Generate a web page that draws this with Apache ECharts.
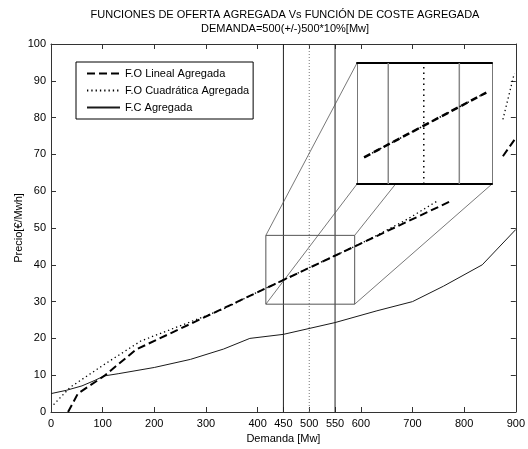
<!DOCTYPE html>
<html>
<head>
<meta charset="utf-8">
<script src="https://cdn.jsdelivr.net/npm/echarts@6/dist/echarts.min.js"></script>
<style>
  html, body { margin: 0; padding: 0; background: #fff; }
  #chart { width: 528px; height: 449px; }
</style>
</head>
<body>
<div id="chart"></div>
<script>
const FONT = '"Liberation Sans", Arial, Helvetica, sans-serif';

// Ejes: demanda [Mw] y precio [€/Mwh]
const xTicks = [0, 100, 200, 300, 400, 450, 500, 550, 600, 700, 800, 900];
const yTicks = [0, 10, 20, 30, 40, 50, 60, 70, 80, 90, 100];

// Función de oferta lineal agregada (dos tramos)
const foLineal = [[33, 0], [52, 5], [103, 9.8], [165, 17], [777, 57.5]];
const foLinealAlto = [[875, 69.5], [900, 74.5]];

// Función de oferta cuadrática agregada (dos tramos)
const foCuadratica = [[5, 2], [37, 6.7], [104, 13], [174, 19.3], [270, 24.5], [334, 28],
  [400, 32.6], [450, 35.9], [500, 39.2], [550, 42.5], [600, 45.8], [631, 48.0], [690, 52.4], [750, 57.5]];
const foCuadraticaAlto = [[875, 79.5], [897, 92]];

// Función de coste agregada
const fcAgregada = [[0, 5], [30, 5.9], [60, 7.1], [85, 8.6], [103, 9.8], [130, 10.4], [200, 12.1],
  [270, 14.3], [334, 17.1], [385, 20], [450, 21.1], [550, 24.3], [631, 27.5], [700, 30],
  [760, 34.2], [835, 40], [900, 49.6]];

// Demanda = 500 (+/-) 500*10%
const demandaLimites = [450, 550];
const demandaCentral = [500];

// Ventana ampliada y ejes del recuadro de detalle
const zoomX = [416, 588];
const zoomY = [29.3, 48];
const insetX = [406, 596];
const insetY = [28.9, 50.2];
const zoomLineal = [[416, 33.6], [588, 45.0]];
const zoomCuadratica = [[416, 33.6], [588, 45.0]];

const X_MIN = xTicks[0], X_MAX = xTicks[xTicks.length - 1];
const Y_MIN = yTicks[0], Y_MAX = yTicks[yTicks.length - 1];

const axisColor = '#333';
const labelStyle = { fontFamily: FONT, fontSize: 11, color: '#000' };

function vLines(xs, y0, y1) {
  const out = [];
  xs.forEach((x, i) => {
    if (i > 0) out.push([null, null]);
    out.push([x, y0], [x, y1]);
  });
  return out;
}

const mainRef = { xAxisIndex: 0, yAxisIndex: 0 };
const insetRef = { xAxisIndex: 2, yAxisIndex: 2 };

const baseSeries = [
  // líneas verticales de demanda
  Object.assign({ type: 'line', name: 'lim', data: vLines(demandaLimites, Y_MIN, Y_MAX), symbol: 'none',
    connectNulls: false, lineStyle: { color: '#222', width: 1 }, z: 2, silent: true }, mainRef),
  Object.assign({ type: 'line', name: 'dem', data: vLines(demandaCentral, Y_MIN, Y_MAX), symbol: 'none',
    lineStyle: { color: '#777', width: 1, type: [1, 2] }, z: 2, silent: true }, mainRef),
  // rectángulo de la zona ampliada
  Object.assign({ type: 'line', name: 'zona', symbol: 'none', silent: true, z: 2,
    data: [[zoomX[0], zoomY[0]], [zoomX[1], zoomY[0]], [zoomX[1], zoomY[1]], [zoomX[0], zoomY[1]], [zoomX[0], zoomY[0]]],
    lineStyle: { color: '#555', width: 1 } }, mainRef),
  // curvas
  Object.assign({ type: 'line', name: 'F.C Agregada', data: fcAgregada, symbol: 'none',
    itemStyle: { color: '#000' }, lineStyle: { color: '#1a1a1a', width: 1 }, z: 3 }, mainRef),
  Object.assign({ type: 'line', name: 'F.O Cuadrática Agregada', data: foCuadratica, symbol: 'none',
    itemStyle: { color: '#000' }, lineStyle: { color: '#000', width: 1.3, type: [1.3, 3] }, z: 3 }, mainRef),
  Object.assign({ type: 'line', name: 'F.O Cuadrática Agregada', data: foCuadraticaAlto, symbol: 'none',
    itemStyle: { color: '#000' }, lineStyle: { color: '#000', width: 1.3, type: [1.3, 3] }, z: 3 }, mainRef),
  Object.assign({ type: 'line', name: 'F.O Lineal Agregada', data: foLineal, symbol: 'none',
    itemStyle: { color: '#000' }, lineStyle: { color: '#000', width: 2, type: [8, 4] }, z: 4 }, mainRef),
  Object.assign({ type: 'line', name: 'F.O Lineal Agregada', data: foLinealAlto, symbol: 'none',
    itemStyle: { color: '#000' }, lineStyle: { color: '#000', width: 2, type: [8, 4] }, z: 4 }, mainRef),
  // recuadro de detalle
  Object.assign({ type: 'line', name: 'lim2', data: vLines(demandaLimites, insetY[0], insetY[1]), symbol: 'none',
    lineStyle: { color: '#888', width: 1.5 }, z: 12, silent: true }, insetRef),
  Object.assign({ type: 'line', name: 'dem2', data: vLines(demandaCentral, insetY[0], insetY[1]), symbol: 'none',
    lineStyle: { color: '#000', width: 1.5, type: [1.5, 4] }, z: 12, silent: true }, insetRef),
  Object.assign({ type: 'line', name: 'lin2', data: zoomLineal, symbol: 'none',
    lineStyle: { color: '#000', width: 2.5, type: [7, 4] }, z: 13, silent: true }, insetRef),
  Object.assign({ type: 'line', name: 'cua2', data: zoomCuadratica, symbol: 'none',
    lineStyle: { color: '#000', width: 1.5, type: [1.5, 3] }, z: 13, silent: true }, insetRef)
];

const option = {
  animation: false,
  backgroundColor: '#fff',
  textStyle: { fontFamily: FONT },
  graphic: [
    { type: 'text', x: 285, y: 15, style: { text: 'FUNCIONES DE OFERTA AGREGADA Vs FUNCIÓN DE COSTE AGREGADA',
      fontFamily: FONT, fontSize: 11, fill: '#000', align: 'center', verticalAlign: 'middle' } },
    { type: 'text', x: 285, y: 29, style: { text: 'DEMANDA=500(+/-)500*10%[Mw]',
      fontFamily: FONT, fontSize: 11, fill: '#000', align: 'center', verticalAlign: 'middle' } }
  ],
  legend: {
    data: ['F.O Lineal Agregada', 'F.O Cuadrática Agregada', 'F.C Agregada'],
    orient: 'vertical', left: 76, top: 62,
    itemWidth: 33, itemHeight: 12, itemGap: 6,
    padding: [6, 4, 6, 10],
    borderColor: '#000', borderWidth: 1, backgroundColor: '#fff',
    itemStyle: { opacity: 0 },
    textStyle: labelStyle,
    selectedMode: false,
    z: 20
  },
  grid: [
    { left: 51, top: 44, width: 469, height: 369 },
    { left: 357, top: 63, width: 135, height: 121, show: true, backgroundColor: '#fff', borderWidth: 0, z: 10 }
  ],
  xAxis: [
    { gridIndex: 0, type: 'value', position: 'bottom', min: X_MIN, max: X_MAX,
      axisLine: { onZero: false, lineStyle: { color: axisColor } },
      axisTick: { inside: true, length: 5, customValues: xTicks, lineStyle: { color: axisColor } },
      axisLabel: { customValues: xTicks, margin: 6, ...labelStyle },
      splitLine: { show: false },
      name: 'Demanda [Mw]', nameLocation: 'middle', nameGap: 21, nameMoveOverlap: false, nameTextStyle: labelStyle },
    { gridIndex: 0, type: 'value', position: 'top', min: X_MIN, max: X_MAX,
      axisLine: { onZero: false, lineStyle: { color: axisColor } },
      axisTick: { inside: true, length: 5, customValues: xTicks, lineStyle: { color: axisColor } },
      axisLabel: { show: false }, splitLine: { show: false } },
    { gridIndex: 1, type: 'value', position: 'bottom', min: insetX[0], max: insetX[1], z: 11,
      axisLine: { onZero: false, lineStyle: { color: '#000', width: 2 } },
      axisTick: { show: false }, axisLabel: { show: false }, splitLine: { show: false } },
    { gridIndex: 1, type: 'value', position: 'top', min: insetX[0], max: insetX[1], z: 11,
      axisLine: { onZero: false, lineStyle: { color: '#000', width: 2 } },
      axisTick: { show: false }, axisLabel: { show: false }, splitLine: { show: false } }
  ],
  yAxis: [
    { gridIndex: 0, type: 'value', position: 'left', min: Y_MIN, max: Y_MAX, interval: 10,
      axisLine: { show: true, onZero: false, lineStyle: { color: axisColor } },
      axisTick: { show: true, inside: true, length: 5, lineStyle: { color: axisColor } },
      axisLabel: { margin: 5, ...labelStyle },
      splitLine: { show: false },
      name: 'Precio[€/Mwh]', nameLocation: 'middle', nameGap: 27, nameMoveOverlap: false, nameTextStyle: labelStyle },
    { gridIndex: 0, type: 'value', position: 'right', min: Y_MIN, max: Y_MAX, interval: 10,
      axisLine: { show: true, onZero: false, lineStyle: { color: axisColor } },
      axisTick: { show: true, inside: true, length: 5, lineStyle: { color: axisColor } },
      axisLabel: { show: false }, splitLine: { show: false } },
    { gridIndex: 1, type: 'value', position: 'left', min: insetY[0], max: insetY[1], z: 11,
      axisLine: { show: true, onZero: false, lineStyle: { color: '#777', width: 1 } },
      axisTick: { show: false }, axisLabel: { show: false }, splitLine: { show: false } },
    { gridIndex: 1, type: 'value', position: 'right', min: insetY[0], max: insetY[1], z: 11,
      axisLine: { show: true, onZero: false, lineStyle: { color: '#777', width: 1 } },
      axisTick: { show: false }, axisLabel: { show: false }, splitLine: { show: false } }
  ],
  series: baseSeries
};

const chart = echarts.init(document.getElementById('chart'), null, { renderer: 'canvas' });
chart.setOption(option);

// Líneas de unión entre la zona ampliada y las esquinas del recuadro de detalle
function insetCornerInMain(x, y) {
  const px = chart.convertToPixel(insetRef, [x, y]);
  return chart.convertFromPixel(mainRef, px);
}
const corners = [
  [[zoomX[0], zoomY[0]], insetCornerInMain(insetX[0], insetY[0])],
  [[zoomX[1], zoomY[0]], insetCornerInMain(insetX[1], insetY[0])],
  [[zoomX[0], zoomY[1]], insetCornerInMain(insetX[0], insetY[1])],
  [[zoomX[1], zoomY[1]], insetCornerInMain(insetX[1], insetY[1])]
];
const connectors = corners.map((seg, i) => Object.assign({
  type: 'line', name: 'union' + i, data: seg, symbol: 'none', silent: true, z: 2,
  lineStyle: { color: '#555', width: 0.8 }
}, mainRef));

chart.setOption({ series: baseSeries.concat(connectors) });
</script>
</body>
</html>
